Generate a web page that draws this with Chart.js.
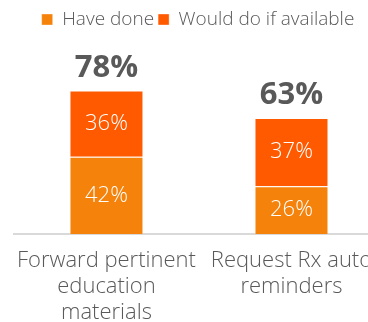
<!DOCTYPE html>
<html>
<head>
<meta charset="utf-8">
<script src="https://cdn.jsdelivr.net/npm/chart.js@4.4.1/dist/chart.umd.min.js"></script>
<style>
  html, body { margin: 0; padding: 0; background: #fff; overflow: hidden; }
  #wrap { width: 396px; height: 322px; }
</style>
</head>
<body>
<div id="wrap"><canvas id="chart" width="396" height="322"></canvas></div>
<script>
// données
const categories = [
  ["Forward pertinent", "education", "materials"],
  ["Request Rx auto", "reminders"]
];
const seriesNames = ["Have done", "Would do if available"];
const haveDone = [42, 26];
const wouldDo = [36, 37];
const seriesColors = ["#F5820A", "#FF5A00"];

const FONT = "'Open Sans', sans-serif";
const GREY = "#595959";

// étiquettes dans les barres + total au-dessus de chaque pile
const valueLabels = {
  id: "valueLabels",
  afterDatasetsDraw(chart) {
    const ctx = chart.ctx;
    ctx.save();
    ctx.textAlign = "center";
    chart.data.datasets.forEach((ds, i) => {
      const meta = chart.getDatasetMeta(i);
      meta.data.forEach((bar, j) => {
        ctx.fillStyle = "#ffffff";
        ctx.font = "300 22px " + FONT;
        ctx.textBaseline = "middle";
        ctx.fillText(ds.data[j] + "%", bar.x, (bar.y + bar.base) / 2);
      });
    });
    const last = chart.getDatasetMeta(chart.data.datasets.length - 1);
    last.data.forEach((bar, j) => {
      const total = chart.data.datasets.reduce((s, ds) => s + ds.data[j], 0);
      ctx.fillStyle = GREY;
      ctx.font = "bold 31px " + FONT;
      ctx.textBaseline = "alphabetic";
      ctx.fillText(total + "%", bar.x, bar.y - 14);
    });
    ctx.restore();
  }
};

new Chart(document.getElementById("chart").getContext("2d"), {
  type: "bar",
  data: {
    labels: categories,
    datasets: [
      { label: seriesNames[0], data: haveDone, backgroundColor: seriesColors[0], borderColor: "rgba(255,255,255,0.35)", borderWidth: 1 },
      { label: seriesNames[1], data: wouldDo, backgroundColor: seriesColors[1], borderColor: "rgba(255,255,255,0.35)", borderWidth: 1 }
    ]
  },
  options: {
    responsive: false,
    animation: false,
    layout: { padding: { left: 12, right: 12, top: 6, bottom: 0 } },
    datasets: { bar: { barPercentage: 1, categoryPercentage: 0.4 } },
    plugins: {
      legend: {
        position: "top",
        labels: {
          boxWidth: 11,
          boxHeight: 11,
          padding: 4,
          color: GREY,
          font: { family: FONT, size: 19, weight: "300" }
        }
      },
      tooltip: { enabled: false }
    },
    scales: {
      x: {
        stacked: true,
        grid: { display: false, drawTicks: false },
        border: { display: true, color: "#d9d9d9", width: 2 },
        ticks: {
          color: GREY,
          padding: 14,
          maxRotation: 0,
          autoSkip: false,
          font: { family: FONT, size: 22, weight: "300", lineHeight: 1.18 }
        },
        afterFit(scale) { scale.height = 88; }
      },
      y: {
        stacked: true,
        display: false,
        min: 0,
        max: 106
      }
    }
  },
  plugins: [valueLabels]
});
</script>
</body>
</html>
